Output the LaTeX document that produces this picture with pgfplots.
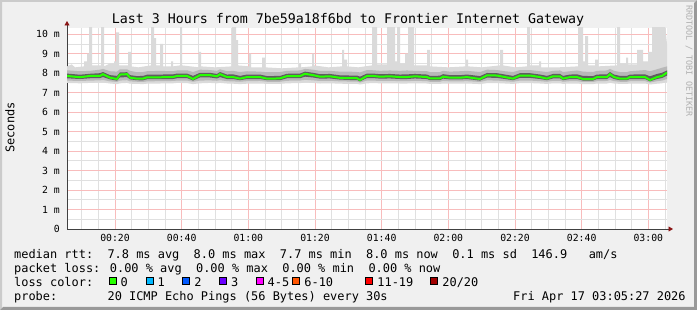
\documentclass[border=0pt]{standalone}
\usepackage{fontspec}
\setmainfont{DejaVu Sans Mono}
\usepackage{pgfplots}
\pgfplotsset{compat=1.18}
\usepackage{pgfplotstable}
\usepgfplotslibrary{fillbetween}
\usetikzlibrary{arrows.meta}

\definecolor{bg}{HTML}{F0F0F0}
\definecolor{shadeA}{HTML}{CBCBCB}
\definecolor{shadeB}{HTML}{999999}
\definecolor{gridred}{HTML}{F8BCBC}
\definecolor{gridgray}{HTML}{E0E0E0}
\definecolor{axisgray}{HTML}{404040}
\definecolor{arrowred}{HTML}{8B1515}
\definecolor{smokeA}{HTML}{DADADA}
\definecolor{smokeB}{HTML}{B8B8B8}
\definecolor{smokeC}{HTML}{5E5E5E}
\definecolor{medgreen}{HTML}{26FF00}
\definecolor{wm}{HTML}{B0B0B0}
\definecolor{lc0}{HTML}{26FF00}
\definecolor{lc1}{HTML}{00B8FF}
\definecolor{lc2}{HTML}{0059FF}
\definecolor{lc3}{HTML}{6A00FF}
\definecolor{lc4}{HTML}{FF00FF}
\definecolor{lc5}{HTML}{FF5500}
\definecolor{lc6}{HTML}{FF0000}
\definecolor{lc7}{HTML}{A10000}

\newcommand\legfont{\fontsize{11.93bp}{14bp}\selectfont}

\pgfplotstableread{
x med lo1 lo2 lo3 hi3 hi2
5.6 7.86 7.50 7.62 7.74 7.98 8.15
9.5 7.79 7.48 7.60 7.70 7.92 8.10
12.5 7.86 7.50 7.62 7.74 7.97 8.12
15.5 7.86 7.52 7.63 7.75 8.00 8.18
16.4 7.95 7.52 7.65 7.80 8.06 8.22
18.5 7.77 7.47 7.58 7.68 7.90 8.10
20.6 7.70 7.44 7.55 7.62 7.86 8.08
21.5 7.93 7.48 7.62 7.78 8.04 8.20
23.6 7.95 7.50 7.64 7.80 8.05 8.20
24.5 7.77 7.46 7.58 7.68 7.90 8.12
26.6 7.72 7.45 7.56 7.64 7.85 8.05
28.4 7.72 7.44 7.55 7.63 7.86 8.06
29.6 7.79 7.46 7.58 7.69 7.92 8.10
33.5 7.79 7.47 7.59 7.69 7.93 8.12
37.4 7.80 7.48 7.60 7.70 7.94 8.10
38.6 7.86 7.50 7.62 7.74 7.98 8.14
41.6 7.86 7.49 7.62 7.75 7.98 8.15
43.4 7.70 7.44 7.56 7.62 7.86 8.06
45.5 7.90 7.48 7.62 7.78 8.02 8.18
48.5 7.90 7.50 7.63 7.78 8.02 8.16
50.6 7.84 7.48 7.61 7.73 7.96 8.12
51.5 7.95 7.50 7.64 7.80 8.06 8.20
53.6 7.80 7.47 7.59 7.70 7.93 8.10
55.4 7.80 7.46 7.58 7.70 7.94 8.12
57.5 7.72 7.44 7.56 7.64 7.86 8.06
59.6 7.80 7.46 7.59 7.70 7.93 8.10
63.5 7.80 7.47 7.60 7.70 7.93 8.08
65.6 7.72 7.45 7.56 7.64 7.85 8.05
69.5 7.73 7.45 7.56 7.64 7.86 8.06
71.6 7.85 7.48 7.61 7.74 7.97 8.12
75.5 7.85 7.49 7.62 7.74 7.98 8.14
77.0 7.97 7.52 7.66 7.82 8.08 8.22
79.4 7.90 7.50 7.63 7.78 8.02 8.18
81.5 7.82 7.47 7.60 7.72 7.95 8.12
84.5 7.84 7.48 7.61 7.73 7.96 8.12
87.5 7.76 7.46 7.58 7.67 7.89 8.08
90.5 7.74 7.45 7.57 7.65 7.88 8.08
92.6 7.74 7.45 7.57 7.65 7.88 8.06
93.5 7.65 7.42 7.52 7.58 7.82 8.04
95.6 7.86 7.48 7.62 7.75 7.98 8.16
97.4 7.86 7.49 7.62 7.75 7.98 8.15
99.5 7.82 7.48 7.60 7.72 7.95 8.12
102.5 7.84 7.48 7.61 7.73 7.96 8.14
105.5 7.80 7.47 7.59 7.70 7.93 8.12
107.6 7.80 7.47 7.59 7.70 7.94 8.14
110.0 7.84 7.48 7.61 7.73 7.96 8.12
113.6 7.80 7.47 7.59 7.70 7.93 8.10
114.5 7.73 7.45 7.56 7.64 7.86 8.06
117.5 7.73 7.45 7.56 7.64 7.87 8.06
118.4 7.82 7.47 7.60 7.72 7.95 8.12
120.5 7.77 7.46 7.58 7.68 7.90 8.08
123.5 7.77 7.46 7.58 7.68 7.90 8.10
125.6 7.80 7.47 7.59 7.70 7.93 8.12
129.5 7.70 7.44 7.55 7.62 7.85 8.06
131.6 7.89 7.49 7.63 7.77 8.01 8.18
134.6 7.88 7.49 7.62 7.76 8.00 8.16
137.0 7.80 7.47 7.59 7.70 7.93 8.10
139.4 7.72 7.45 7.56 7.64 7.86 8.06
141.5 7.88 7.49 7.62 7.76 8.00 8.16
144.5 7.88 7.49 7.62 7.76 8.00 8.16
147.5 7.80 7.47 7.59 7.70 7.93 8.10
149.6 7.72 7.45 7.56 7.64 7.86 8.06
151.4 7.84 7.48 7.61 7.73 7.96 8.12
153.5 7.84 7.48 7.61 7.73 7.96 8.14
154.4 7.72 7.45 7.56 7.64 7.86 8.06
156.5 7.80 7.47 7.59 7.70 7.93 8.10
158.6 7.80 7.47 7.59 7.70 7.94 8.14
160.4 7.70 7.44 7.55 7.62 7.86 8.08
163.4 7.70 7.44 7.55 7.62 7.85 8.06
164.6 7.80 7.47 7.59 7.70 7.93 8.12
167.6 7.80 7.47 7.60 7.70 7.94 8.14
168.5 7.95 7.50 7.65 7.80 8.06 8.22
169.7 7.80 7.47 7.59 7.70 7.93 8.12
171.5 7.72 7.45 7.56 7.64 7.86 8.06
173.6 7.72 7.45 7.56 7.64 7.86 8.06
174.5 7.80 7.47 7.59 7.70 7.93 8.10
179.0 7.80 7.47 7.59 7.70 7.94 8.16
180.5 7.65 7.42 7.52 7.58 7.84 8.10
182.6 7.80 7.46 7.59 7.70 7.96 8.20
184.1 7.86 7.48 7.62 7.75 8.02 8.28
185.6 8.03 7.55 7.70 7.88 8.14 8.35
}\smoke

\begin{document}
\begin{tikzpicture}
\pgfplotsset{set layers}
\begin{pgfonlayer}{axis background}
\fill[bg] (0,0) rectangle (697bp,310bp);
\fill[shadeA] (0,0) -- (0,310bp) -- (697bp,310bp) -- (695bp,308bp) -- (2bp,308bp) -- (2bp,2bp) -- cycle;
\fill[shadeB] (0,0) -- (697bp,0) -- (697bp,310bp) -- (694bp,307bp) -- (694bp,3bp) -- (3bp,3bp) -- cycle;
\end{pgfonlayer}

\begin{axis}[
  at={(67bp,81bp)}, anchor=south west,
  scale only axis, width=600bp, height=201bp,
  xmin=5.6, xmax=185.6, ymin=0, ymax=10.32,
  axis lines=left,
  axis line style={draw=axisgray, line width=0.8bp},
  x axis line style={-{Triangle[length=4.5bp,width=5bp,color=arrowred,fill=arrowred]}, shorten >=-6bp},
  y axis line style={-{Triangle[length=4.5bp,width=5bp,color=arrowred,fill=arrowred]}, shorten >=-7bp},
  xtick={20,40,...,180},
  xticklabels={00:20,00:40,01:00,01:20,01:40,02:00,02:20,02:40,03:00},
  minor xtick={10,15,25,30,35,45,50,55,65,70,75,85,90,95,105,110,115,125,130,135,145,150,155,165,170,175,185},
  ytick={0,1,...,10},
  yticklabels={0,1 m,2 m,3 m,4 m,5 m,6 m,7 m,8 m,9 m,10 m},
  minor ytick={0.5,1.5,...,10.5},
  grid=both,
  major grid style={draw=gridred, line width=0.9bp},
  minor grid style={draw=gridgray, line width=0.9bp},
  major tick length=0pt, minor tick length=0pt,
  tick label style={font=\fontsize{9.8bp}{11bp}\selectfont, inner sep=0pt, text=black},
  xticklabel style={anchor=north, yshift=-5.4bp},
  yticklabel style={anchor=east, xshift=-7bp},
  axis background/.style={fill=white},
]
\addplot[draw=none, name path=mx] coordinates {
(5.6,8.35) (7,8.45) (8,8.3) (10.7,8.35) (10.7,8.6) (11.6,8.6) (11.6,9.0) (12.2,9.0) (12.2,10.5) (13.1,10.5) (13.1,8.4)
(15.8,8.4) (15.8,10.5) (16.7,10.5) (16.7,8.35) (18.5,8.5) (19.7,8.5) (19.7,8.6) (20.3,8.6) (20.3,10.1) (21.2,10.1) (21.2,8.4)
(23.9,8.4) (23.9,9.1) (24.8,9.1) (24.8,8.35) (27,8.3) (30.8,8.4) (30.8,10.5) (31.7,10.5) (31.7,9.8) (32.3,9.8) (32.3,8.4)
(33.5,8.4) (33.5,9.5) (34.4,9.5) (34.4,8.35) (36.8,8.35) (36.8,8.6) (37.4,8.6) (37.4,8.35) (39.5,8.4) (39.5,10.5) (40.1,10.5) (40.1,8.4)
(45.2,8.3) (45.2,9.1) (45.8,9.1) (45.8,8.35) (50,8.3) (55.1,8.35) (55.1,10.5) (56.3,10.5) (56.3,9.7) (56.9,9.7) (56.9,8.4)
(60.2,8.35) (60.2,9.0) (60.8,9.0) (60.8,8.3) (64.1,8.3) (64.1,8.8) (65.0,8.8) (65.0,8.3) (70,8.25) (75.2,8.3) (75.2,8.5) (75.8,8.5) (75.8,8.3)
(79.1,8.35) (79.1,9.0) (79.7,9.0) (79.7,8.4) (84,8.3) (88.1,8.35) (88.1,9.2) (88.7,9.2) (88.7,8.7) (89.6,8.7) (89.6,8.35) (93,8.3)
(97.1,8.4) (97.1,10.5) (98.6,10.5) (98.6,8.45) (101.6,8.45) (101.6,10.5) (104.0,10.5) (104.0,8.6) (104.6,8.6) (104.6,10.5) (105.5,10.5) (105.5,8.5)
(107.0,8.5) (107.0,9.0) (107.9,9.0) (107.9,10.5) (109.7,10.5) (109.7,8.4) (113.6,8.4) (113.6,9.2) (114.5,9.2) (114.5,8.35) (120,8.3)
(125.3,8.35) (125.3,8.7) (125.9,8.7) (125.9,8.35) (130,8.3) (135.5,8.4) (135.5,9.2) (136.4,9.2) (136.4,8.4) (140,8.3)
(143.6,8.35) (143.6,10.5) (144.5,10.5) (144.5,8.4) (147.2,8.4) (147.2,8.6) (147.8,8.6) (147.8,8.3) (153,8.3)
(158.9,8.35) (158.9,10.5) (160.4,10.5) (160.4,8.6) (161.0,8.6) (161.0,9.9) (161.9,9.9) (161.9,8.4) (164.0,8.4) (164.0,8.7) (164.9,8.7) (164.9,8.35)
(170.6,8.4) (170.6,10.5) (171.5,10.5) (171.5,8.5) (173.3,8.5) (173.3,8.8) (173.9,8.8) (173.9,8.45) (176.6,8.45) (176.6,9.2) (178.4,9.2) (178.4,8.6)
(179.9,8.6) (179.9,9.1) (181.1,9.1) (181.1,10.5) (185.0,10.5) (185.6,9.5)
};
\addplot[draw=none, name path=l1] table[x=x,y=lo1]{\smoke};
\addplot[fill=smokeA, draw=none] fill between[of=mx and l1];
\addplot[draw=none, name path=h2] table[x=x,y=hi2]{\smoke};
\addplot[draw=none, name path=l2] table[x=x,y=lo2]{\smoke};
\addplot[fill=smokeB, draw=none] fill between[of=h2 and l2];
\addplot[draw=none, name path=h3] table[x=x,y=hi3]{\smoke};
\addplot[draw=none, name path=l3] table[x=x,y=lo3]{\smoke};
\addplot[fill=smokeC, draw=none] fill between[of=h3 and l3];
\addplot[medgreen, line width=2bp] table[x=x,y=med]{\smoke};
\end{axis}

\node[anchor=base, inner sep=0, font=\fontsize{13.3bp}{15bp}\selectfont] at (348bp,286.7bp)
  {Last 3 Hours from 7be59a18f6bd to Frontier Internet Gateway};
\node[rotate=90, inner sep=0, font=\legfont] at (10bp,182.5bp) {Seconds};
\node[rotate=-90, anchor=west, inner sep=0, text=wm, font=\fontsize{8.4bp}{9bp}\selectfont] at (689bp,305bp) {RRDTOOL / TOBI OETIKER};

\node[anchor=base west, inner sep=0, font=\legfont] at (14bp,51.7bp)
  {median rtt:~~7.8 ms avg~~8.0 ms max~~7.7 ms min~~8.0 ms now~~0.1 ms sd~~146.9~~~am/s};
\node[anchor=base west, inner sep=0, font=\legfont] at (14bp,38bp)
  {packet loss: 0.00 \% avg~~0.00 \% max~~0.00 \% min~~0.00 \% now};
\node[anchor=base west, inner sep=0, font=\legfont] at (14bp,24bp) {loss color:};
\node[anchor=base west, inner sep=0, font=\legfont] at (14bp,10bp)
  {probe:~~~~~~~20 ICMP Echo Pings (56 Bytes) every 30s};
\node[anchor=base west, inner sep=0, font=\legfont] at (513bp,10bp) {Fri Apr 17 03:05:27 2026};

\filldraw[fill=lc0, draw=black, line width=0.8bp] (109bp,26bp) rectangle ++(7bp,7bp);
\filldraw[fill=lc1, draw=black, line width=0.8bp] (146bp,26bp) rectangle ++(7bp,7bp);
\filldraw[fill=lc2, draw=black, line width=0.8bp] (182.7bp,26bp) rectangle ++(7bp,7bp);
\filldraw[fill=lc3, draw=black, line width=0.8bp] (219.3bp,26bp) rectangle ++(7bp,7bp);
\filldraw[fill=lc4, draw=black, line width=0.8bp] (256bp,26bp) rectangle ++(7bp,7bp);
\filldraw[fill=lc5, draw=black, line width=0.8bp] (292.7bp,26bp) rectangle ++(7bp,7bp);
\filldraw[fill=lc6, draw=black, line width=0.8bp] (365.7bp,26bp) rectangle ++(7bp,7bp);
\filldraw[fill=lc7, draw=black, line width=0.8bp] (430.7bp,26bp) rectangle ++(7bp,7bp);
\node[anchor=base west, inner sep=0, font=\legfont] at (120.5bp,24bp) {0};
\node[anchor=base west, inner sep=0, font=\legfont] at (157.5bp,24bp) {1};
\node[anchor=base west, inner sep=0, font=\legfont] at (194.2bp,24bp) {2};
\node[anchor=base west, inner sep=0, font=\legfont] at (230.8bp,24bp) {3};
\node[anchor=base west, inner sep=0, font=\legfont] at (267.5bp,24bp) {4-5};
\node[anchor=base west, inner sep=0, font=\legfont] at (304.2bp,24bp) {6-10};
\node[anchor=base west, inner sep=0, font=\legfont] at (377.2bp,24bp) {11-19};
\node[anchor=base west, inner sep=0, font=\legfont] at (442.2bp,24bp) {20/20};
\end{tikzpicture}
\end{document}
